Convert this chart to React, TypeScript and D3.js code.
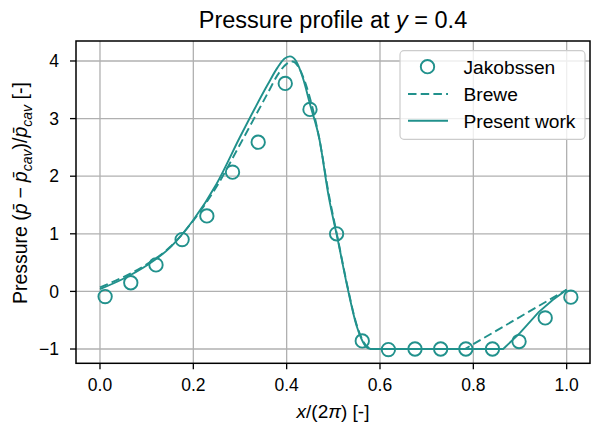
import React from "react";
import * as d3 from "d3";

const jakX = [0.011, 0.066, 0.120, 0.176, 0.229, 0.284, 0.339, 0.397, 0.450, 0.507, 0.562, 0.618, 0.675, 0.730, 0.784, 0.841, 0.898, 0.954, 1.009];
const jakY = [-0.09, 0.15, 0.46, 0.90, 1.31, 2.07, 2.59, 3.61, 3.16, 1.00, -0.86, -1.01, -1.0, -1.0, -1.0, -1.0, -0.87, -0.46, -0.10];

// smooth part (monotone curve) then straight segments
const breweX = [0, 0.05, 0.1, 0.15, 0.2, 0.25, 0.3, 0.33, 0.36, 0.38, 0.4, 0.412, 0.425, 0.44, 0.455, 0.47, 0.49, 0.51, 0.53, 0.55, 0.565, 0.58];
const breweY = [0.07, 0.25, 0.47, 0.77, 1.23, 1.82, 2.55, 3.0, 3.45, 3.75, 3.95, 3.99, 3.9, 3.62, 3.2, 2.65, 1.7, 0.9, 0.1, -0.58, -0.88, -1.0];
const breweTailX = [0.58, 0.782, 1.0];
const breweTailY = [-1.0, -1.0, 0.03];

const presentX = [0, 0.05, 0.1, 0.15, 0.2, 0.25, 0.3, 0.33, 0.36, 0.38, 0.395, 0.407, 0.42, 0.435, 0.45, 0.47, 0.49, 0.51, 0.53, 0.55, 0.56, 0.57, 0.58];
const presentY = [0.04, 0.22, 0.45, 0.76, 1.24, 1.87, 2.68, 3.15, 3.6, 3.88, 4.04, 4.08, 4.0, 3.7, 3.25, 2.65, 1.65, 0.88, 0.08, -0.6, -0.82, -0.96, -1.0];
const presentTailX = [0.58, 0.864, 0.9, 0.94, 0.97, 1.0];
const presentTailY = [-1.0, -1.0, -0.72, -0.36, -0.15, 0.03];

const xTicks = [0.0, 0.2, 0.4, 0.6, 0.8, 1.0];
const yTicks = [-1, 0, 1, 2, 3, 4];
const legendLabels = ["Jakobssen", "Brewe", "Present work"];

const COLOR = "#21918c";
const FONT = "'Liberation Sans', Arial, Helvetica, sans-serif";

type P = [number, number];

export default function App() {
  const left = 76, right = 590, top = 41, bottom = 363.3;
  const x = d3.scaleLinear().domain([-0.0514, 1.05]).range([left, right]);
  const y = d3.scaleLinear().domain([-1.248, 4.347]).range([bottom, top]);

  const smooth = d3.line<P>().x((d) => x(d[0])).y((d) => y(d[1])).curve(d3.curveMonotoneX);
  const straight = d3.line<P>().x((d) => x(d[0])).y((d) => y(d[1])).curve(d3.curveLinear);
  const zip = (a: number[], b: number[]) => a.map((v, i) => [v, b[i]] as P);
  const joined = (hx: number[], hy: number[], tx: number[], ty: number[]) =>
    (smooth(zip(hx, hy)) || "") + (straight(zip(tx, ty)) || "").replace(/^M/, "L");

  const brewePath = joined(breweX, breweY, breweTailX, breweTailY);
  const presentPath = joined(presentX, presentY, presentTailX, presentTailY);

  const fs = 17.5;
  const lfs = 19.2;
  const lx = 400, ly = 50.7, lw = 185, lh = 88.6;
  const rows = [66.7, 94, 120.7];

  return (
    <svg
      width={592}
      height={431}
      style={{ position: "absolute", left: 0, top: 0, background: "#fff" }}
      fontFamily={FONT}
    >
      <rect x={0} y={0} width={592} height={431} fill="#fff" />
      <defs>
        <clipPath id="plotclip">
          <rect x={left} y={top} width={right - left} height={bottom - top} />
        </clipPath>
      </defs>
      {xTicks.map((t) => (
        <line key={"gx" + t} x1={x(t)} x2={x(t)} y1={top} y2={bottom} stroke="#b0b0b0" strokeWidth={1.3} />
      ))}
      {yTicks.map((t) => (
        <line key={"gy" + t} x1={left} x2={right} y1={y(t)} y2={y(t)} stroke="#b0b0b0" strokeWidth={1.3} />
      ))}
      <g clipPath="url(#plotclip)">
        <path d={brewePath} fill="none" stroke={COLOR} strokeWidth={1.9} strokeDasharray="8.5,4.2" />
        <path d={presentPath} fill="none" stroke={COLOR} strokeWidth={1.9} />
      </g>
      {jakX.map((v, i) => (
        <circle key={"j" + i} cx={x(v)} cy={y(jakY[i])} r={6.7} fill="none" stroke={COLOR} strokeWidth={1.9} />
      ))}
      <rect x={left} y={top} width={right - left} height={bottom - top} fill="none" stroke="#000" strokeWidth={1.5} />
      {xTicks.map((t) => (
        <g key={"xt" + t}>
          <line x1={x(t)} x2={x(t)} y1={bottom} y2={bottom + 6} stroke="#000" strokeWidth={1.3} />
          <text x={x(t)} y={bottom + 28} textAnchor="middle" fontSize={fs} fill="#000">
            {t.toFixed(1)}
          </text>
        </g>
      ))}
      {yTicks.map((t) => (
        <g key={"yt" + t}>
          <line x1={left - 6} x2={left} y1={y(t)} y2={y(t)} stroke="#000" strokeWidth={1.3} />
          <text x={left - 17} y={y(t) + 6.2} textAnchor="end" fontSize={fs} fill="#000">
            {t < 0 ? "\u2212" + Math.abs(t) : String(t)}
          </text>
        </g>
      ))}
      <text x={(left + right) / 2} y={28} textAnchor="middle" fontSize={23.5} fill="#000">
        Pressure profile at <tspan fontStyle="italic">y</tspan> = 0.4
      </text>
      <text x={(left + right) / 2} y={418} textAnchor="middle" fontSize={19} fill="#000">
        <tspan fontStyle="italic">x</tspan>/(2<tspan fontStyle="italic">π</tspan>) [-]
      </text>
      <text transform={`translate(27, ${(top + bottom) / 2 - 9}) rotate(-90)`} textAnchor="middle" fontSize={19.5} fill="#000">
        Pressure (<tspan fontStyle="italic">p̄</tspan>{"\u2005\u2212\u2005"}<tspan fontStyle="italic">p̄</tspan>
        <tspan fontStyle="italic" fontSize={14} dy={4.5}>cav</tspan>
        <tspan dy={-4.5}>)/</tspan>
        <tspan fontStyle="italic">p̄</tspan>
        <tspan fontStyle="italic" fontSize={14} dy={4.5}>cav</tspan>
        <tspan dy={-4.5}> [-]</tspan>
      </text>
      <rect x={lx} y={ly} width={lw} height={lh} rx={4} fill="#fff" fillOpacity={0.8} stroke="#cccccc" strokeWidth={1.2} />
      <circle cx={427.5} cy={rows[0]} r={6.7} fill="none" stroke={COLOR} strokeWidth={1.9} />
      <line x1={408} x2={448} y1={rows[1]} y2={rows[1]} stroke={COLOR} strokeWidth={1.9} strokeDasharray="8.5,4.2" />
      <line x1={408} x2={448} y1={rows[2]} y2={rows[2]} stroke={COLOR} strokeWidth={1.9} />
      {legendLabels.map((l, i) => (
        <text key={l} x={463.5} y={rows[i] + 6.8} fontSize={lfs} fill="#000">
          {l}
        </text>
      ))}
    </svg>
  );
}
